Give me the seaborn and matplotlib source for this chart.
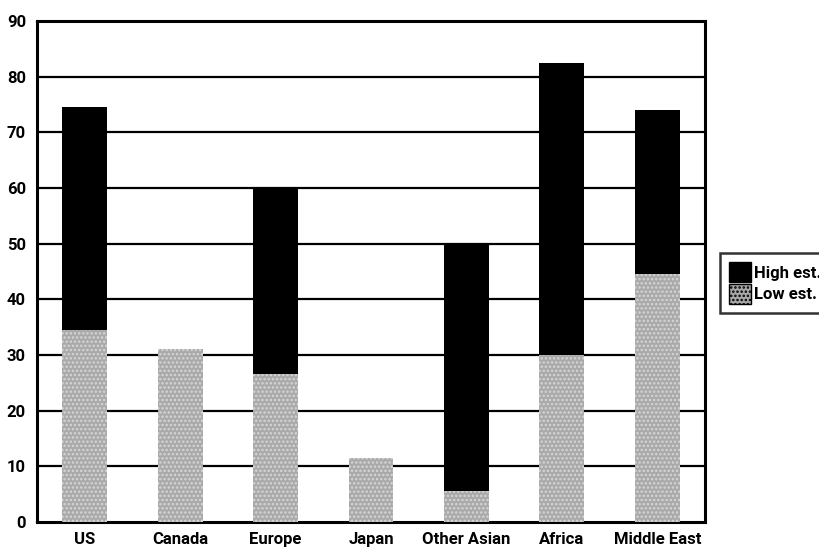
import matplotlib
matplotlib.use("Agg")
import matplotlib.pyplot as plt
import matplotlib.patches as mpatches
import seaborn as sns
import pandas as pd

regions = ["US", "Canada", "Europe", "Japan", "Other Asian", "Africa", "Middle East"]
low_est = [34.5, 31.0, 26.5, 11.5, 5.5, 30.0, 44.5]
high_est = [40.0, 0.0, 33.5, 0.0, 44.5, 52.5, 29.5]
y_ticks = [0, 10, 20, 30, 40, 50, 60, 70, 80, 90]

df = pd.DataFrame({"region": regions, "low": low_est, "high": high_est})
df["total"] = df["low"] + df["high"]

sns.set_style("white")
plt.rcParams["font.family"] = ["Roboto", "DejaVu Sans"]
plt.rcParams["font.weight"] = "bold"
plt.rcParams["hatch.linewidth"] = 1.2

fig = plt.figure(figsize=(8.2, 5.54), dpi=100)
ax = fig.add_axes([37 / 820, 1 - 522 / 554, 668 / 820, 501 / 554])

LOW_FACE = "#a9a9a9"
LOW_HATCH = "#d6d6d6"

# stacked bars: full height in black, low estimate drawn over its base
sns.barplot(data=df, x="region", y="total", color="black", width=0.47,
            saturation=1, ax=ax, zorder=3, linewidth=0)
sns.barplot(data=df, x="region", y="low", color=LOW_FACE, width=0.47,
            saturation=1, ax=ax, zorder=4, linewidth=0)
for p in ax.patches[:len(regions)]:
    p.set_edgecolor("black")
    p.set_linewidth(0)
for p in ax.patches[len(regions):]:
    p.set_hatch("....")
    p.set_edgecolor(LOW_HATCH)
    p.set_linewidth(0)

ax.set_ylim(0, 90)
ax.set_xlim(-0.5, len(regions) - 0.5)
ax.set_yticks(y_ticks)
ax.set_yticklabels([str(t) for t in y_ticks], fontsize=12, fontweight="bold")
ax.set_xticks(range(len(regions)))
ax.set_xticklabels(regions, fontsize=12, fontweight="bold")
ax.set_xlabel("")
ax.set_ylabel("")

for t in y_ticks[1:-1]:
    ax.axhline(t, color="black", linewidth=1.6, zorder=2)

for s in ax.spines.values():
    s.set_color("black")
    s.set_linewidth(2.2)
    s.set_visible(True)

ax.tick_params(axis="y", length=4, width=1.5, direction="out", pad=4, colors="black")
ax.tick_params(axis="x", length=0, pad=7, colors="black")

handles = [
    mpatches.Patch(facecolor="black", edgecolor="black", label="High est."),
    mpatches.Patch(facecolor=LOW_FACE, edgecolor="black", hatch="....", label="Low est."),
]
leg = fig.legend(handles=handles, loc="center left", bbox_to_anchor=(720 / 820, 1 - 283 / 554),
                 frameon=True, fancybox=False, fontsize=12, handlelength=1.3,
                 handleheight=1.4, handletextpad=0.2, borderpad=0.55, labelspacing=0.15,
                 borderaxespad=0)
leg.get_frame().set_edgecolor("black")
leg.get_frame().set_linewidth(1.8)
for txt in leg.get_texts():
    txt.set_fontweight("bold")
    txt.set_color("black")

fig.savefig("out.png", dpi=100)
